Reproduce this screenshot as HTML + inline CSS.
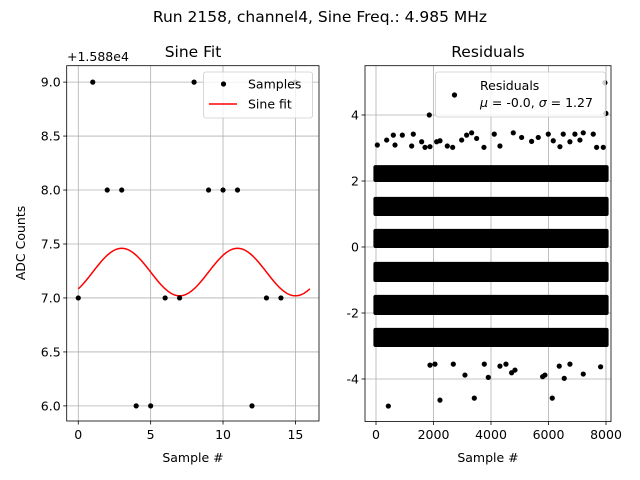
<!DOCTYPE html>
<html><head><meta charset="utf-8"><style>
body{margin:0;background:#fff;}
svg{display:block;font-family:"DejaVu Sans","Liberation Sans",sans-serif;}
</style></head><body>
<svg id="fig" width="640" height="480" viewBox="0 0 640 480">
<rect width="640" height="480" fill="#fff"/>
<text x="320" y="22" text-anchor="middle" font-size="15.5">Run 2158, channel4, Sine Freq.: 4.985 MHz</text>
<g id="left"></g>
<g id="right"></g>
</svg>
<script>
// ---- Left chart data ----
const sampleIdx = [0,1,2,3,4,5,6,7,8,9,10,11,12,13,14,15];
const sampleVals = [7,9,8,8,6,6,7,7,9,8,8,8,6,7,7,9];
const fitOffset = [7.24];
const fitAmplitude = [0.22];
const fitPeriod = [8];
const fitPhaseShift = [1];
const leftXTicks = [0,5,10,15];
const leftYTicks = [6.0,6.5,7.0,7.5,8.0,8.5,9.0];
// ---- Right chart data ----
const residBandLo = [1.97,0.94,-0.03,-1.06,-2.06,-3.03];
const residBandHi = [2.48,1.52,0.55,-0.45,-1.45,-2.45];
const outlierSamples = [46,371,603,661,916,1240,1298,1588,1704,1878,2109,2225,2480,2666,2979,3152,3326,3500,3755,4114,4311,4775,5065,5412,5644,5992,6166,6398,6513,6745,6919,7093,7209,7557,7673,7905,1854,2724,7997,7962,
1878,2051,2689,3094,3767,3906,4311,4520,4717,4833,5795,5876,6374,6548,6745,7209,7812,429,2225,3419,6131];
const outlierValues = [3.09,3.24,3.39,3.09,3.39,3.06,3.42,3.19,3.02,3.04,3.19,3.22,3.06,3.02,3.24,3.39,3.46,3.29,3.02,3.42,3.06,3.46,3.32,3.20,3.32,3.42,3.22,3.04,3.42,3.19,3.42,3.24,3.46,3.42,3.02,3.02,4.0,4.61,4.05,4.98,
-3.58,-3.55,-3.55,-3.88,-3.55,-3.95,-3.61,-3.55,-3.81,-3.73,-3.93,-3.88,-3.61,-3.98,-3.55,-3.85,-3.63,-4.82,-4.64,-4.58,-4.58];
const rightXTicks = [0,2000,4000,6000,8000];
const rightYTicks = [-4,-2,0,2,4];

const NS="http://www.w3.org/2000/svg";
function mk(parent,tag,attrs){const e=document.createElementNS(NS,tag);for(const k in attrs)e.setAttribute(k,attrs[k]);parent.appendChild(e);return e;}
const TICK=12.5, LAB=12.5, TTL=15.5;

// Left axes
const L={x0:66.7,x1:319,y0:65.7,y1:421,xmin:-0.8,xmax:16.63,ymin:5.86,ymax:9.152};
const lx=v=>L.x0+(v-L.xmin)/(L.xmax-L.xmin)*(L.x1-L.x0);
const ly=v=>L.y1-(v-L.ymin)/(L.ymax-L.ymin)*(L.y1-L.y0);
const gl=document.getElementById('left');
leftXTicks.forEach(t=>{
  const l=mk(gl,'line',{x1:lx(t),x2:lx(t),y1:L.y0,y2:L.y1,stroke:'#b0b0b0','stroke-width':0.8});
  
  
  mk(gl,'line',{x1:lx(t),x2:lx(t),y1:L.y1,y2:L.y1+3.5,stroke:'#000','stroke-width':0.8});
  const tx=mk(gl,'text',{x:lx(t),y:L.y1+18,'text-anchor':'middle','font-size':TICK});
  tx.textContent=t;
  
  
});
leftYTicks.forEach(t=>{
  const l=mk(gl,'line',{x1:L.x0,x2:L.x1,y1:ly(t),y2:ly(t),stroke:'#b0b0b0','stroke-width':0.8});
  
  
  mk(gl,'line',{x1:L.x0-3.5,x2:L.x0,y1:ly(t),y2:ly(t),stroke:'#000','stroke-width':0.8});
  const tx=mk(gl,'text',{x:L.x0-6,y:ly(t)+4.5,'text-anchor':'end','font-size':TICK});
  tx.textContent=t.toFixed(1);
  
  
});
let d='';
for(let i=0;i<=320;i++){const x=i*16/320;const y=fitOffset[0]+fitAmplitude[0]*Math.sin(2*Math.PI*(x-fitPhaseShift[0])/fitPeriod[0]);d+=(i?'L':'M')+lx(x).toFixed(2)+' '+ly(y).toFixed(2);}
const fl=mk(gl,'path',{d:d,fill:'none',stroke:'#ff0000','stroke-width':1.5});


sampleIdx.forEach((s,i)=>{
  const c=mk(gl,'circle',{cx:lx(s),cy:ly(sampleVals[i]),r:2.6,fill:'#000'});
  
  
});
mk(gl,'rect',{x:L.x0,y:L.y0,width:L.x1-L.x0,height:L.y1-L.y0,fill:'none',stroke:'#000','stroke-width':0.8});
const lg=mk(gl,'g',{});


mk(lg,'rect',{x:203.5,y:72,width:109,height:46,rx:2.5,fill:'#fff','fill-opacity':0.8,stroke:'#ccc','stroke-width':0.8});
mk(lg,'circle',{cx:223.5,cy:84,r:2.6,fill:'#000'});
mk(lg,'line',{x1:209,x2:237,y1:104,y2:104,stroke:'#ff0000','stroke-width':1.5});
const t1=mk(lg,'text',{x:248,y:88.5,'font-size':LAB});t1.textContent='Samples';
const t2=mk(lg,'text',{x:248,y:108.5,'font-size':LAB});t2.textContent='Sine fit';
const lt=mk(gl,'text',{x:193,y:57,'text-anchor':'middle','font-size':TTL});lt.textContent='Sine Fit';

const off=mk(gl,'text',{x:67,y:61,'font-size':TICK});off.textContent='+1.588e4';

const xl=mk(gl,'text',{x:193,y:462,'text-anchor':'middle','font-size':LAB});xl.textContent='Sample #';

const yl=mk(gl,'text',{x:0,y:0,'text-anchor':'middle','font-size':LAB,transform:'translate(25,243) rotate(-90)'});yl.textContent='ADC Counts';


// Right axes
const R={x0:365,x1:611,y0:65.7,y1:421.5};
const rx=v=>376+v*(606-376)/8000;
const ry=v=>247-v*33;
const gr=document.getElementById('right');
rightXTicks.forEach(t=>{
  const l=mk(gr,'line',{x1:rx(t),x2:rx(t),y1:R.y0,y2:R.y1,stroke:'#b0b0b0','stroke-width':0.8});
  
  
  mk(gr,'line',{x1:rx(t),x2:rx(t),y1:R.y1,y2:R.y1+3.5,stroke:'#000','stroke-width':0.8});
  const tx=mk(gr,'text',{x:rx(t),y:R.y1+17.5,'text-anchor':'middle','font-size':TICK});
  tx.textContent=t;
  
  
});
rightYTicks.forEach(t=>{
  const l=mk(gr,'line',{x1:R.x0,x2:R.x1,y1:ry(t),y2:ry(t),stroke:'#b0b0b0','stroke-width':0.8});
  
  
  mk(gr,'line',{x1:R.x0-3.5,x2:R.x0,y1:ry(t),y2:ry(t),stroke:'#000','stroke-width':0.8});
  const tx=mk(gr,'text',{x:R.x0-6,y:ry(t)+4.5,'text-anchor':'end','font-size':TICK});
  tx.textContent=t;
  
  
});
residBandLo.forEach((lo,i)=>{
  const hi=residBandHi[i];
  const b=mk(gr,'rect',{x:rx(0)-2.6,y:ry(hi),width:rx(8000)-rx(0)+5.2,height:ry(lo)-ry(hi),rx:2,fill:'#000'});
  
  
});
outlierSamples.forEach((s,i)=>{
  const c=mk(gr,'circle',{cx:rx(s),cy:ry(outlierValues[i]),r:2.6,fill:'#000'});
  
  
});
mk(gr,'rect',{x:R.x0,y:R.y0,width:R.x1-R.x0,height:R.y1-R.y0,fill:'none',stroke:'#000','stroke-width':0.8});
const rg=mk(gr,'g',{});


mk(rg,'rect',{x:435.5,y:72,width:170,height:45,rx:2.5,fill:'#fff','fill-opacity':0.8,stroke:'#ccc','stroke-width':0.8});
mk(rg,'circle',{cx:454.5,cy:95,r:2.6,fill:'#000'});
const r1=mk(rg,'text',{x:480,y:90,'font-size':LAB});r1.textContent='Residuals';
const r2=mk(rg,'text',{x:480,y:107,'font-size':LAB});r2.innerHTML='<tspan font-style="italic">μ</tspan> = -0.0, <tspan font-style="italic">σ</tspan> = 1.27';
const rt=mk(gr,'text',{x:488,y:57,'text-anchor':'middle','font-size':TTL});rt.textContent='Residuals';

const rxl=mk(gr,'text',{x:488,y:462,'text-anchor':'middle','font-size':LAB});rxl.textContent='Sample #';

</script>
</body></html>
